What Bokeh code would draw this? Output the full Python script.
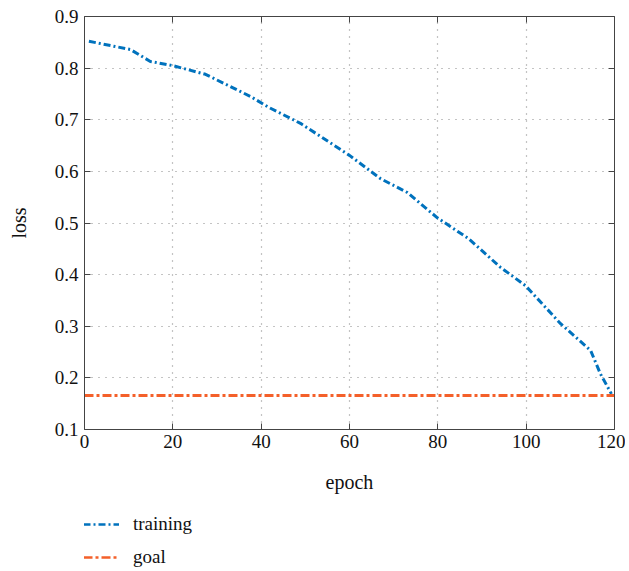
from bokeh.plotting import figure
from bokeh.layouts import column
from bokeh.models import LinearAxis, Legend, LegendItem, Range1d, FixedTicker
from bokeh.embed import file_html
from bokeh.resources import INLINE

epoch = [1, 10.4, 14.9, 19.9, 27.4, 37.6, 41.7, 48.9, 60, 67, 73.1, 79.9, 86.9, 94.2, 99.8, 107.8, 114.6, 116.8, 119.3]
loss = [0.852, 0.836, 0.813, 0.805, 0.788, 0.745, 0.724, 0.693, 0.631, 0.586, 0.559, 0.51, 0.47, 0.414, 0.379, 0.305, 0.253, 0.208, 0.169]
goal_x = [0, 120]
goal_y = [0.166, 0.166]
xticks = [0, 20, 40, 60, 80, 100, 120]
yticks = [0.1, 0.2, 0.3, 0.4, 0.5, 0.6, 0.7, 0.8, 0.9]
series_names = ["training", "goal"]
series_colors = ["#0072BD", "#F4602A"]
series_dash = ["7 3 2 3", "9 3 3 3"]

FONT = "Liberation Serif"
AX = "#444444"

p = figure(width=625, height=500, output_backend="svg", toolbar_location=None,
           x_range=Range1d(0, 120), y_range=Range1d(0.1, 0.9),
           min_border_left=84, min_border_right=11, min_border_top=16, min_border_bottom=71)
p.outline_line_color = None

for ax in (p.xaxis[0], p.yaxis[0]):
    ax.major_label_text_font = FONT
    ax.major_label_text_font_size = "19px"
    ax.major_label_text_color = "#111111"
    ax.axis_label_text_font = FONT
    ax.axis_label_text_font_size = "20px"
    ax.axis_label_text_font_style = "normal"
    ax.axis_label_text_color = "#111111"
    ax.axis_line_color = AX
    ax.major_tick_line_color = AX
    ax.major_tick_in = 6
    ax.major_tick_out = 0
    ax.minor_tick_line_color = None
p.xaxis.ticker = FixedTicker(ticks=xticks)
p.yaxis.ticker = FixedTicker(ticks=yticks)
p.xaxis.axis_label = "epoch"
p.yaxis.axis_label = "loss"
p.xaxis.major_label_standoff = 5
p.yaxis.major_label_standoff = 6
p.xaxis.axis_label_standoff = 20
p.yaxis.axis_label_standoff = 22

top = LinearAxis(ticker=FixedTicker(ticks=xticks), major_label_overrides={t: "" for t in xticks},
                 axis_line_color=AX, major_tick_line_color=AX, major_tick_in=6, major_tick_out=0,
                 minor_tick_line_color=None, major_label_standoff=0)
right = LinearAxis(ticker=FixedTicker(ticks=yticks), major_label_overrides={t: "" for t in yticks},
                   axis_line_color=AX, major_tick_line_color=AX, major_tick_in=6, major_tick_out=0,
                   minor_tick_line_color=None, major_label_standoff=0)
p.add_layout(top, "above")
p.add_layout(right, "right")

for g in (p.xgrid[0], p.ygrid[0]):
    g.grid_line_color = "#888888"
    g.grid_line_dash = "1 6"
    g.grid_line_width = 1.2

series = [(epoch, loss), (goal_x, goal_y)]
for (xs, ys), col, dash in zip(series, series_colors, series_dash):
    p.line(xs, ys, line_color=col, line_width=3, line_dash=dash)

# legend panel below the chart (its frame shows a range with no data, only the legend)
p2 = figure(width=625, height=68, output_backend="svg", toolbar_location=None,
            x_range=Range1d(0, 120), y_range=Range1d(5, 6),
            min_border_left=84, min_border_right=11, min_border_top=0, min_border_bottom=0)
p2.outline_line_color = None
p2.axis.visible = False
p2.grid.visible = False
items = []
for name, (xs, ys), col, dash in zip(series_names, series, series_colors, series_dash):
    r = p2.line(xs, ys, line_color=col, line_width=2.5, line_dash=dash)
    items.append(LegendItem(label=name, renderers=[r]))
leg = Legend(items=items, location=(-1, 0), orientation="vertical",
             label_text_font=FONT, label_text_font_size="19px", label_text_color="#111111",
             glyph_width=36, glyph_height=20, spacing=11, label_standoff=14,
             background_fill_alpha=0, border_line_color=None, padding=0, margin=0)
p2.add_layout(leg, "center")

open("out.html", "w").write(file_html(column(p, p2, spacing=0), INLINE))
